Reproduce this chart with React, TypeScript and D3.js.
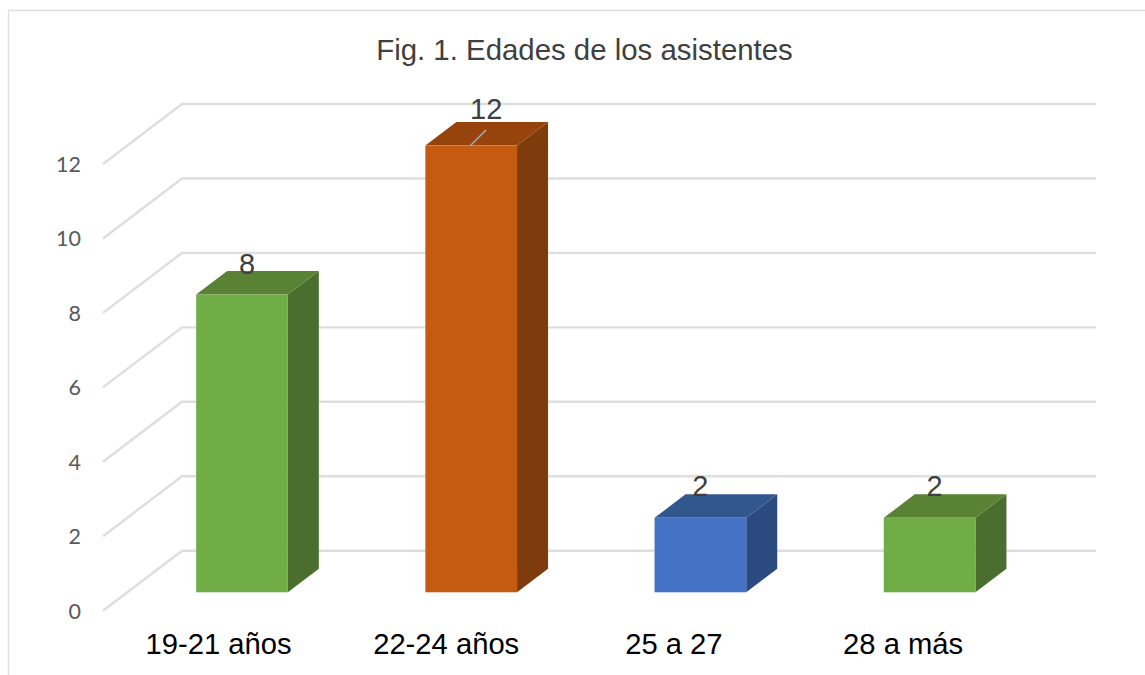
import React from "react";
import * as d3 from "d3";

// chart values
const categories = ["19-21 años", "22-24 años", "25 a 27", "28 a más"];
const asistentes = [8, 12, 2, 2];
const yTicks = [0, 2, 4, 6, 8, 10, 12];

// colours for each bar: front, side, top
const frontColors = ["#70AD47", "#C55A11", "#4472C4", "#70AD47"];
const sideColors = ["#4A6E2D", "#7E3B0B", "#2A4A80", "#4A6E2D"];
const topColors = ["#598235", "#97440C", "#32578F", "#598235"];

// hand placed labels in the original, offsets from the bar centre / bar top
const labelNudge = [5, 15, 0, 5];
const labelLift = [20.6, 26.4, 21.6, 21.6];
const categoryNudge = [-23.5, -25, -26.5, -26.5];

const WIDTH = 1145;
const HEIGHT = 675;

// fake 3D: how far the back wall and the bar depth are shifted
const wallDx = 79;
const wallDy = -60;
const barDx = 31;
const barDy = -23.5;
const floorFront = 610.7; // y of value 0 on the front edge
const barBase = 592.3; // y of the front face bottom of the bars

const y = d3.scaleLinear().domain([0, 12]).range([floorFront, 164]);
const barH = (v: number) => y(0) - y(v);
const x = d3
  .scaleBand<string>()
  .domain(categories)
  .range([127.4, 1044.2])
  .paddingInner(0.6)
  .paddingOuter(0.3);

const poly = d3.line();

export default function App() {
  const gridColor = "#DEDEDE";
  return (
    <svg
      width={WIDTH}
      height={HEIGHT}
      style={{ position: "absolute", left: 0, top: 0, background: "#fff" }}
    >
      {/* chart frame, cut by the picture on the right and at the bottom */}
      <path d={`M8.5,${HEIGHT}V10.5H${WIDTH}`} fill="none" stroke={gridColor} strokeWidth={1.3} />

      <text
        x={584.5}
        y={59.5}
        textAnchor="middle"
        fontFamily="Liberation Sans"
        fontSize={29.4}
        fill="#404040"
      >
        Fig. 1. Edades de los asistentes
      </text>

      {/* gridlines: side wall then back wall */}
      {yTicks.map((t) => (
        <g key={t}>
          <path
            d={`M103,${y(t)}L${103 + wallDx},${y(t) + wallDy}H1096`}
            fill="none"
            stroke={gridColor}
            strokeWidth={2.4}
          />
          <text
            x={81}
            y={y(t) + 7.8}
            textAnchor="end"
            fontFamily="Lato"
            fontSize={21.5}
            fill="#595959"
          >
            {t}
          </text>
        </g>
      ))}

      {categories.map((c, i) => {
        const v = asistentes[i];
        const x0 = x(c) as number;
        const x1 = x0 + x.bandwidth();
        const top = barBase - barH(v);
        const side = poly([
          [x1, barBase],
          [x1 + barDx, barBase + barDy],
          [x1 + barDx, top + barDy],
          [x1, top],
        ]) as string;
        const lid = poly([
          [x0, top],
          [x0 + barDx, top + barDy],
          [x1 + barDx, top + barDy],
          [x1, top],
        ]) as string;
        return (
          <g key={c}>
            <path d={side + "Z"} fill={sideColors[i]} />
            <path d={lid + "Z"} fill={topColors[i]} />
            <rect x={x0} y={top} width={x.bandwidth()} height={barH(v)} fill={frontColors[i]} />
          </g>
        );
      })}

      {/* leader line of the 12 label */}
      <line x1={470} y1={146} x2={486} y2={130} stroke="#A6A6A6" strokeWidth={1.7} />

      {categories.map((c, i) => {
        const v = asistentes[i];
        const cx = (x(c) as number) + x.bandwidth() / 2;
        return (
          <g key={c}>
            <text
              x={cx + labelNudge[i]}
              y={barBase - barH(v) - labelLift[i]}
              textAnchor="middle"
              fontFamily="Liberation Sans"
              fontSize={29}
              fill="#404040"
            >
              {v}
            </text>
            <text
              x={cx + categoryNudge[i]}
              y={654}
              textAnchor="middle"
              fontFamily="Liberation Sans"
              fontSize={29.2}
              fill="#000"
            >
              {c}
            </text>
          </g>
        );
      })}
    </svg>
  );
}
